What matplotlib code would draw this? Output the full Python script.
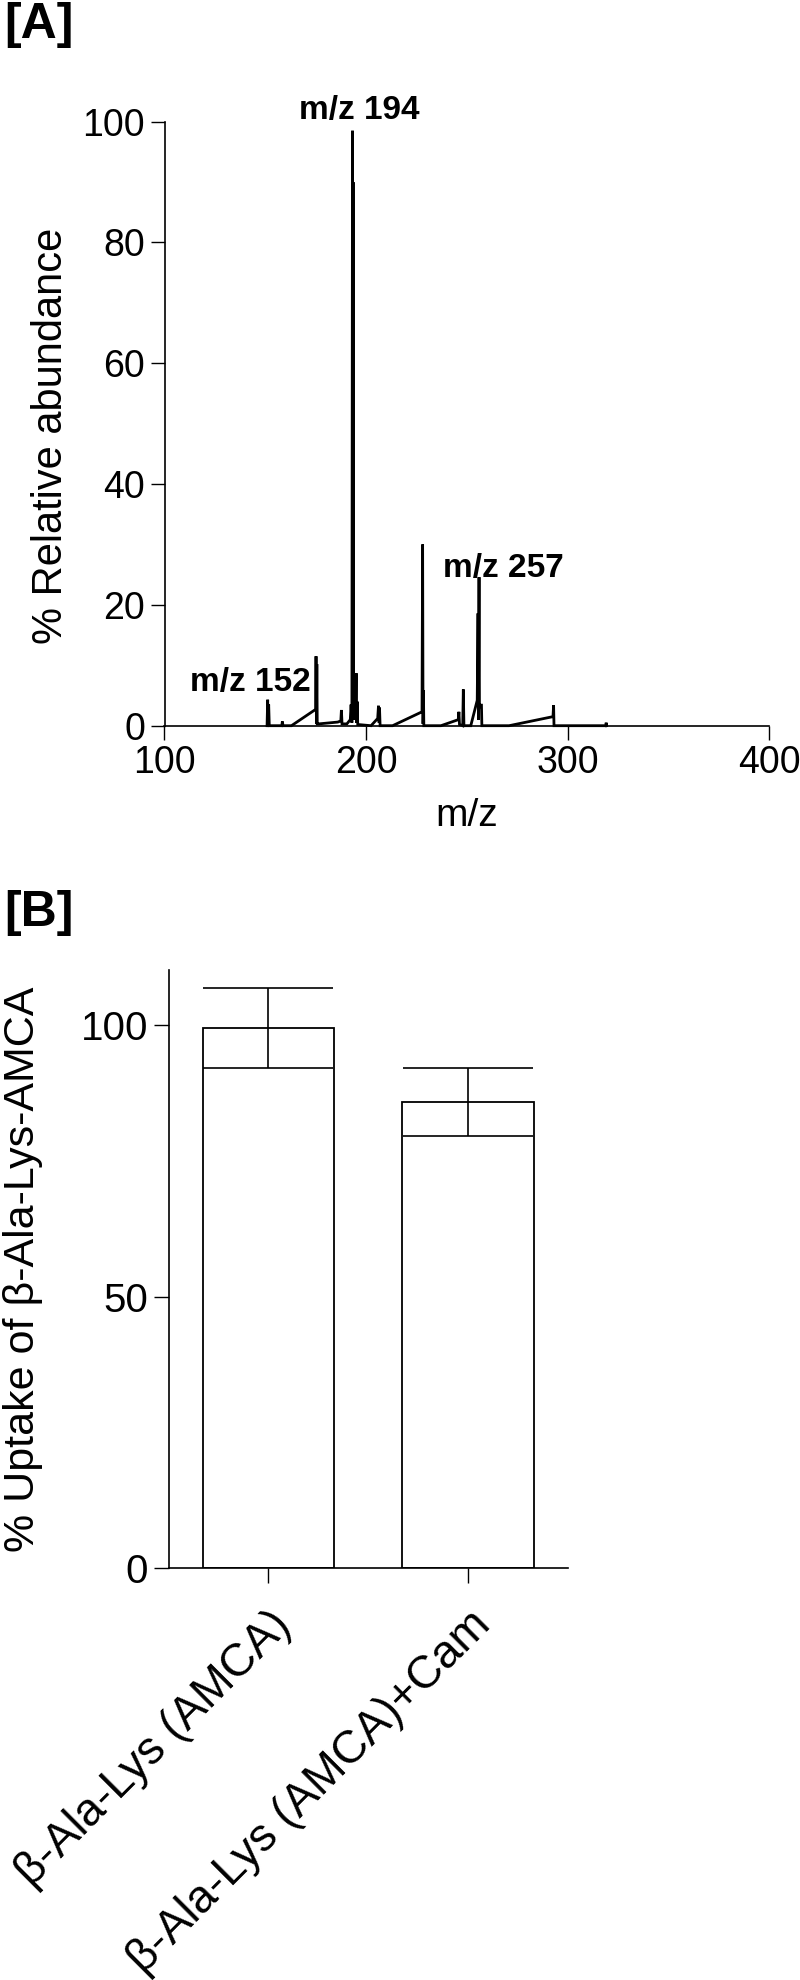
import matplotlib
matplotlib.use("Agg")
import matplotlib.pyplot as plt

plt.rcParams['font.family'] = ['Liberation Sans', 'DejaVu Sans']

# ---------------- Panel A data: mass spectrum (m/z, % relative abundance) ----------------
mz = [150.9, 151.2, 151.4, 151.7, 152.0,
      158.2, 158.5, 158.8,
      163.0, 175.0, 175.2, 175.4, 175.6, 175.8,
      176.5, 186.0, 187.5, 187.8, 188.1,
      190.5, 192.2, 192.6, 193.0, 193.3, 193.5, 193.6, 193.8, 194.1, 194.3,
      194.6, 194.8, 195.1, 195.3, 195.6, 195.9,
      202.5, 205.8, 206.2, 206.5, 206.7, 207.0,
      213.2, 227.8, 228.1, 228.3, 228.5, 228.7,
      237.2, 245.8, 246.1, 246.4, 248.0, 248.3, 248.6,
      252.0, 255.2, 255.6, 255.8, 256.1, 256.3, 256.9, 257.3, 257.5,
      271.0, 292.8, 293.1, 293.3,
      319.0, 319.2, 319.4]
abund = [0.0, 4.3, 0.3, 3.5, 0.0,
         0.0, 0.7, 0.0,
         0.0, 2.7, 11.5, 0.3, 10.2, 0.3,
         0.3, 0.6, 0.8, 2.6, 0.3,
         0.3, 1.0, 3.5, 0.5, 98.5, 1.0, 90.0, 1.5, 5.0, 1.0,
         5.5, 1.0, 8.7, 0.5, 4.0, 0.2,
         0.0, 1.2, 3.3, 0.5, 3.0, 0.0,
         0.0, 2.3, 30.0, 0.3, 5.9, 0.0,
         0.0, 1.0, 2.3, 0.2, 0.0, 6.0, 0.0,
         0.0, 4.2, 18.6, 1.0, 24.6, 3.0, 3.4, 3.4, 0.0,
         0.0, 1.5, 3.4, 0.0,
         0.0, 0.5, 0.0]
peak_labels = ["m/z 152", "m/z 194", "m/z 257"]
peak_label_x = [142.7, 196.8, 268.2]
peak_label_y = [5.7, 100.4, 24.6]
xticks_a = [100, 200, 300, 400]
yticks_a = [0, 20, 40, 60, 80, 100]

# ---------------- Panel B data: uptake bar chart ----------------
categories = ["\u03b2-Ala-Lys (AMCA)", "\u03b2-Ala-Lys (AMCA)+Cam"]
uptake = [99.4, 85.8]
uptake_err = [7.4, 6.2]
yticks_b = [0, 50, 100]

W, H = 800, 1980
fig = plt.figure(figsize=(W / 100, H / 100), dpi=100)


def fx(px):
    return px / W


def fy(py):
    return 1 - py / H


# ---------- Panel A ----------
axA = fig.add_axes([fx(164.5), fy(725.7), fx(769) - fx(164.5), fy(121.7) - fy(725.7)])
axA.plot(mz, abund, color='black', lw=2.0, solid_joinstyle='miter', clip_on=False)
axA.set_xlim(100, 400)
axA.set_ylim(0, 100)
axA.set_xticks(xticks_a)
axA.set_yticks(yticks_a)
for s in ['top', 'right']:
    axA.spines[s].set_visible(False)
for s in ['left', 'bottom']:
    axA.spines[s].set_linewidth(1.2)
axA.tick_params(direction='out', length=10, width=1.0, labelsize=27, pad=4)
axA.set_xlabel("m/z", fontsize=28, labelpad=12)
axA.set_ylabel("% Relative abundance", fontsize=30)
axA.yaxis.set_label_coords(-0.155, 0.48)
for t, x, y in zip(peak_labels, peak_label_x, peak_label_y):
    axA.text(x, y, t, ha='center', va='baseline', fontsize=24, fontweight='bold', clip_on=False)

fig.text(fx(4), fy(2), "[A]", fontsize=36, fontweight='bold', ha='left', va='top')

# ---------- Panel B ----------
y0_b, y100_b = 1568.0, 1025.0
ytop_b = 970.0
top_val = (y0_b - ytop_b) / (y0_b - y100_b) * 100
axB = fig.add_axes([fx(168.8), fy(y0_b), fx(567.5) - fx(168.8), fy(ytop_b) - fy(y0_b)])
xpos = list(range(len(categories)))
axB.bar(xpos, uptake, width=0.66, color='white', edgecolor='black', linewidth=1.3)
axB.errorbar(xpos, uptake, yerr=uptake_err, fmt='none', ecolor='black',
             elinewidth=1.2, capsize=47, capthick=1.2)
axB.set_xlim(-0.5, 1.5)
axB.set_ylim(0, top_val)
axB.set_yticks(yticks_b)
axB.set_xticks(xpos)
axB.set_xticklabels(categories, rotation=45, ha='right', rotation_mode='anchor')
for s in ['top', 'right']:
    axB.spines[s].set_visible(False)
for s in ['left', 'bottom']:
    axB.spines[s].set_linewidth(1.2)
axB.tick_params(axis='y', direction='out', length=11, width=1.0, labelsize=29, pad=4)
axB.tick_params(axis='x', direction='out', length=11, width=1.0, labelsize=33, pad=14)
axB.set_ylabel("% Uptake of \u03b2-Ala-Lys-AMCA", fontsize=31)
axB.yaxis.set_label_coords(-0.315, 0.5)

fig.text(fx(4), fy(890), "[B]", fontsize=36, fontweight='bold', ha='left', va='top')

fig.savefig("out.png", dpi=100)
